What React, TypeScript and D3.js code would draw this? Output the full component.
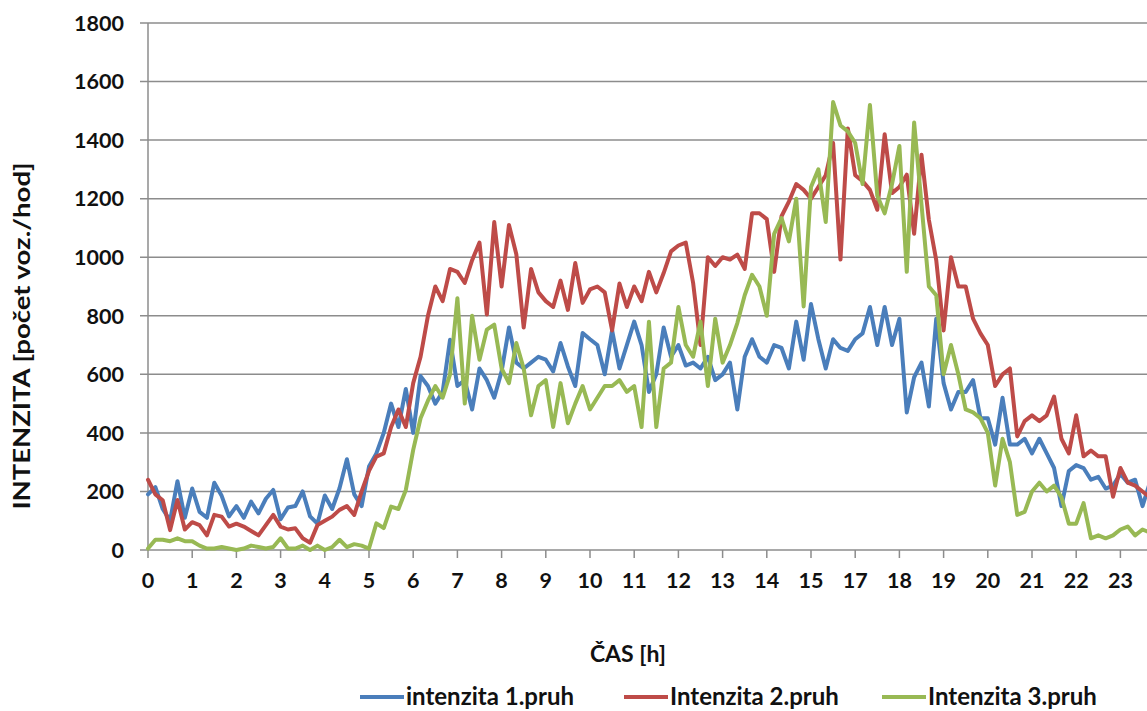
import React, { useEffect, useRef } from "react";
import * as d3 from "d3";

// one sample every 10 minutes, the axis is counted in hour slots
const samplesPerHour = 6;

// the category axis skips "16" in the source workbook
const hourLabels = [
  "0", "1", "2", "3", "4", "5", "6", "7", "8", "9", "10", "11",
  "12", "13", "14", "15", "17", "18", "19", "20", "21", "22", "23",
];

const yTicks = [0, 200, 400, 600, 800, 1000, 1200, 1400, 1600, 1800];

// intenzita 1.pruh, six values per hour slot
const lane1 = [
  190, 215, 140, 100, 235, 110,
  210, 130, 110, 230, 185, 115,
  150, 110, 165, 125, 175, 205,
  105, 145, 150, 200, 115, 90,
  186, 140, 211, 310, 190, 150,
  285, 330, 400, 500, 420, 550,
  400, 594, 560, 500, 540, 718,
  560, 580, 480, 620, 580, 520,
  610, 760, 640, 620, 640, 660,
  650, 610, 707, 627, 560, 741,
  720, 700, 600, 750, 620, 700,
  780, 700, 540, 600, 760, 660,
  700, 630, 640, 620, 660, 580,
  600, 640, 480, 660, 720, 660,
  640, 700, 690, 620, 780, 650,
  840, 720, 620, 720, 690, 680,
  720, 740, 830, 700, 830, 700,
  790, 470, 590, 640, 490, 790,
  570, 480, 540, 540, 580, 450,
  450, 360, 520, 360, 360, 380,
  330, 380, 330, 280, 150, 270,
  290, 280, 240, 250, 210, 220,
  260, 230, 240, 150, 230,
];

// Intenzita 2.pruh
const lane2 = [
  240, 190, 170, 68, 171, 70,
  95, 85, 50, 120, 114, 80,
  90, 80, 65, 50, 85, 120,
  80, 70, 74, 40, 25, 85,
  100, 114, 137, 150, 120, 200,
  270, 319, 330, 420, 480, 420,
  570, 660, 800, 900, 850, 960,
  950, 912, 990, 1050, 804, 1120,
  900, 1110, 1010, 760, 960, 880,
  850, 830, 920, 820, 980, 844,
  890, 900, 880, 750, 910, 830,
  900, 850, 950, 880, 946, 1020,
  1040, 1050, 912, 700, 1000, 970,
  1000, 992, 1009, 960, 1150, 1150,
  1130, 950, 1140, 1190, 1250, 1230,
  1200, 1240, 1280, 1390, 992, 1440,
  1280, 1260, 1230, 1162, 1420, 1219,
  1240, 1282, 1080, 1350, 1128, 990,
  750, 1000, 900, 900, 790, 740,
  700, 560, 600, 620, 388, 440,
  460, 440, 460, 524, 380, 330,
  460, 320, 340, 320, 320, 182,
  280, 230, 220, 200, 180,
];

// Intenzita 3.pruh
const lane3 = [
  5, 35, 35, 30, 40, 30,
  30, 15, 5, 5, 10, 5,
  0, 5, 15, 10, 5, 10,
  40, 5, 5, 15, 0, 15,
  0, 10, 35, 10, 20, 15,
  5, 91, 75, 148, 140, 205,
  342, 450, 510, 560, 520, 600,
  860, 500, 800, 650, 753, 770,
  620, 570, 707, 620, 460, 560,
  580, 420, 570, 433, 500, 560,
  480, 520, 560, 560, 580, 540,
  560, 420, 780, 420, 620, 640,
  830, 700, 660, 780, 560, 790,
  640, 700, 775, 870, 940, 900,
  800, 1080, 1134, 1054, 1200, 832,
  1240, 1300, 1120, 1530, 1450, 1430,
  1390, 1250, 1520, 1210, 1150, 1250,
  1380, 950, 1460, 1180, 900, 870,
  600, 700, 600, 480, 470, 450,
  400, 220, 380, 300, 120, 130,
  200, 230, 200, 220, 180, 90,
  90, 160, 40, 50, 40, 50,
  70, 80, 50, 70, 60,
];

const series = [
  { name: "intenzita 1.pruh", values: lane1, color: "#4A7EBB" },
  { name: "Intenzita 2.pruh", values: lane2, color: "#BE4B48" },
  { name: "Intenzita 3.pruh", values: lane3, color: "#98B954" },
];

export default function App() {
  const svgRef = useRef<SVGSVGElement | null>(null);

  useEffect(() => {
    if (!svgRef.current) return;
    document.body.style.margin = "0";

    const svg = d3.select(svgRef.current);
    svg.selectAll("*").remove();

    const width = 1147;
    const font = "Lato, 'Open Sans', sans-serif";
    const margin = { top: 23, left: 148 };
    const plotBottom = 550;
    const slotWidth = 44.2; // px per hour slot

    // the source chart is cropped on the right, so the plot runs past the edge
    const x = d3
      .scaleLinear()
      .domain([0, 24])
      .range([margin.left, margin.left + 24 * slotWidth]);
    const y = d3.scaleLinear().domain([0, 1800]).range([plotBottom, margin.top]);

    const grid = "#8C8C8C";

    // horizontal gridlines (with the outward tick marks)
    svg
      .append("g")
      .selectAll("line")
      .data(yTicks)
      .join("line")
      .attr("x1", margin.left - 8)
      .attr("x2", width)
      .attr("y1", (d) => y(d))
      .attr("y2", (d) => y(d))
      .attr("stroke", grid)
      .attr("stroke-width", 1.5);

    // value axis line
    svg
      .append("line")
      .attr("x1", margin.left)
      .attr("x2", margin.left)
      .attr("y1", y(0))
      .attr("y2", y(1800))
      .attr("stroke", grid)
      .attr("stroke-width", 1.5);

    // category tick marks
    svg
      .append("g")
      .selectAll("line")
      .data(d3.range(0, 24))
      .join("line")
      .attr("x1", (d) => x(d))
      .attr("x2", (d) => x(d))
      .attr("y1", plotBottom)
      .attr("y2", plotBottom + 8)
      .attr("stroke", grid)
      .attr("stroke-width", 1.5);

    // y labels
    svg
      .append("g")
      .selectAll("text")
      .data(yTicks)
      .join("text")
      .attr("x", margin.left - 24)
      .attr("y", (d) => y(d))
      .attr("dy", "0.36em")
      .attr("text-anchor", "end")
      .attr("font-family", font)
      .attr("font-weight", "bold")
      .attr("font-size", 21.5)
      .attr("fill", "#111")
      .text((d) => d);

    // x labels
    svg
      .append("g")
      .selectAll("text")
      .data(hourLabels)
      .join("text")
      .attr("x", (_, i) => x(i))
      .attr("y", 588)
      .attr("text-anchor", "middle")
      .attr("font-family", font)
      .attr("font-weight", "bold")
      .attr("font-size", 21.5)
      .attr("fill", "#111")
      .text((d) => d);

    // axis titles
    svg
      .append("text")
      .attr("x", 628)
      .attr("y", 662)
      .attr("text-anchor", "middle")
      .attr("font-family", font)
      .attr("font-weight", "bold")
      .attr("font-size", 23)
      .attr("fill", "#111")
      .text("ČAS [h]");

    // the original picture is stretched vertically, so the rotated title runs longer
    svg
      .append("text")
      .attr("transform", "translate(30,336) rotate(-90) scale(1.25,1)")
      .attr("text-anchor", "middle")
      .attr("font-family", font)
      .attr("font-weight", "bold")
      .attr("font-size", 22)
      .attr("fill", "#111")
      .text("INTENZITA [počet voz./hod]");

    // series lines, lane 1 first so lane 3 ends up on top
    const line = d3
      .line<number>()
      .x((_, i) => x(i / samplesPerHour))
      .y((d) => y(d));

    series.forEach((s) => {
      svg
        .append("path")
        .datum(s.values)
        .attr("fill", "none")
        .attr("stroke", s.color)
        .attr("stroke-width", 4)
        .attr("stroke-linejoin", "round")
        .attr("stroke-linecap", "round")
        .attr("d", line);
    });

    // legend
    const legendX = [360, 624, 882];
    const legend = svg
      .append("g")
      .selectAll("g")
      .data(series)
      .join("g")
      .attr("transform", (_, i) => `translate(${legendX[i]},697)`);

    legend
      .append("line")
      .attr("x1", 0)
      .attr("x2", 44)
      .attr("stroke", (d) => d.color)
      .attr("stroke-width", 4);

    legend
      .append("text")
      .attr("x", 46)
      .attr("y", 8)
      .attr("font-family", font)
      .attr("font-weight", "bold")
      .attr("font-size", 24)
      .attr("fill", "#111")
      .text((d) => d.name);
  }, []);

  return (
    <svg
      ref={svgRef}
      width={1147}
      height={711}
      style={{ display: "block", background: "#fff" }}
    />
  );
}
